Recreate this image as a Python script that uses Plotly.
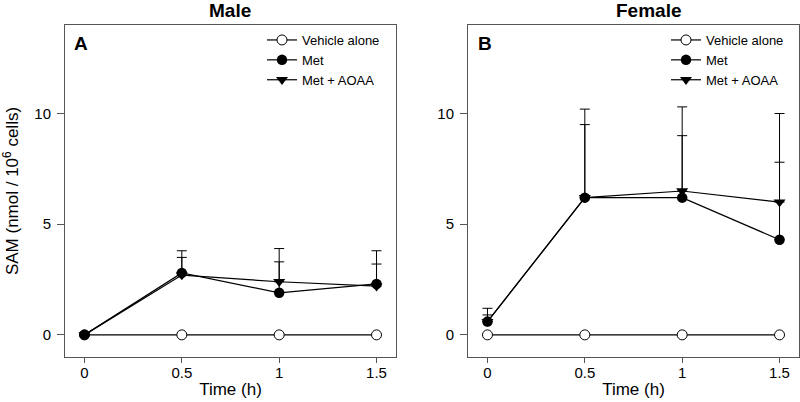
import plotly.graph_objects as go

# time points (h)
time_h = [0, 0.5, 1, 1.5]

# Male (panel A)
male_vehicle = [0, 0, 0, 0]
male_met = [0, 2.8, 1.9, 2.3]
male_met_err = [0, 1.0, 2.0, 1.5]
male_aoaa = [0, 2.7, 2.4, 2.2]
male_aoaa_err = [0, 0.8, 0.9, 1.0]

# Female (panel B)
female_vehicle = [0, 0, 0, 0]
female_met = [0.6, 6.2, 6.2, 4.3]
female_met_err = [0.6, 4.0, 4.1, 5.7]
female_aoaa = [0.6, 6.2, 6.5, 6.0]
female_aoaa_err = [0.3, 3.3, 2.5, 1.8]

x_ticks = [0, 0.5, 1, 1.5]
x_tick_text = ["0", "0.5", "1", "1.5"]
y_ticks = [0, 5, 10]

FONT = "Arial, Liberation Sans, sans-serif"
W, H = 800, 402


def px_x(p):
    return p / W


def px_y(p):
    return 1 - p / H


def add_panel(fig, xa, ya, legend, vehicle, met, met_err, aoaa, aoaa_err):
    xref = "x" if xa == "xaxis" else "x2"
    yref = "y" if ya == "yaxis" else "y2"
    fig.add_trace(go.Scatter(
        x=time_h, y=vehicle, name="Vehicle alone", mode="lines+markers",
        line=dict(color="black", width=1.2),
        marker=dict(symbol="circle", size=10, color="white",
                    line=dict(color="black", width=1)),
        xaxis=xref, yaxis=yref, legend=legend))
    fig.add_trace(go.Scatter(
        x=time_h, y=met, name="Met", mode="lines+markers",
        line=dict(color="black", width=1.2),
        marker=dict(symbol="circle", size=10.5, color="black"),
        error_y=dict(type="data", array=met_err, arrayminus=[0] * 4,
                     symmetric=False, color="black", thickness=1, width=5),
        xaxis=xref, yaxis=yref, legend=legend))
    fig.add_trace(go.Scatter(
        x=time_h, y=aoaa, name="Met + AOAA", mode="lines+markers",
        line=dict(color="black", width=1.2),
        marker=dict(symbol="triangle-down", size=10.5, color="black"),
        error_y=dict(type="data", array=aoaa_err, arrayminus=[0] * 4,
                     symmetric=False, color="black", thickness=1, width=5),
        xaxis=xref, yaxis=yref, legend=legend))


fig = go.Figure()
add_panel(fig, "xaxis", "yaxis", "legend",
          male_vehicle, male_met, male_met_err, male_aoaa, male_aoaa_err)
add_panel(fig, "xaxis2", "yaxis2", "legend2",
          female_vehicle, female_met, female_met_err, female_aoaa, female_aoaa_err)

axis_common = dict(showline=True, mirror=True, linecolor="#555555", linewidth=1,
                   ticks="outside", tickcolor="#555555", tickwidth=1,
                   showgrid=False, zeroline=False,
                   tickfont=dict(family=FONT, size=15, color="black"))
x_common = dict(range=[-0.1, 1.6], tickvals=x_ticks, ticktext=x_tick_text,
                ticklen=5, ticklabelstandoff=-3,
                title=dict(text="Time (h)", font=dict(size=17), standoff=3),
                **axis_common)
y_common = dict(range=[-1, 14], tickvals=y_ticks, ticklen=7, ticklabelstandoff=3,
                **axis_common)

y_dom = [px_y(357), px_y(25)]

fig.update_layout(
    width=W, height=H,
    margin=dict(l=0, r=0, t=0, b=0),
    plot_bgcolor="white", paper_bgcolor="white",
    font=dict(family=FONT, color="black"),
    xaxis=dict(domain=[px_x(65), px_x(396)], anchor="y", **x_common),
    yaxis=dict(domain=y_dom, anchor="x",
               title=dict(text="SAM (nmol / 10<sup>6</sup> cells)",
                          font=dict(size=17), standoff=13),
               **y_common),
    xaxis2=dict(domain=[px_x(468), px_x(799)], anchor="y2", **x_common),
    yaxis2=dict(domain=y_dom, anchor="x2", **y_common),
    legend=dict(x=px_x(262), y=px_y(25), xanchor="left", yanchor="top",
                bgcolor="rgba(0,0,0,0)", font=dict(size=13, family=FONT)),
    legend2=dict(x=px_x(666), y=px_y(25), xanchor="left", yanchor="top",
                 bgcolor="rgba(0,0,0,0)", font=dict(size=13, family=FONT)),
    annotations=[
        dict(text="<b>Male</b>", x=px_x(230), y=px_y(10), xref="paper", yref="paper",
             showarrow=False, font=dict(size=19), xanchor="center", yanchor="middle"),
        dict(text="<b>Female</b>", x=px_x(648), y=px_y(10), xref="paper", yref="paper",
             showarrow=False, font=dict(size=19), xanchor="center", yanchor="middle"),
        dict(text="<b>A</b>", x=px_x(72), y=px_y(44), xref="paper", yref="paper",
             showarrow=False, font=dict(size=19), xanchor="left", yanchor="middle"),
        dict(text="<b>B</b>", x=px_x(476), y=px_y(44), xref="paper", yref="paper",
             showarrow=False, font=dict(size=19), xanchor="left", yanchor="middle"),
    ],
)

# drop the browser's default 8px body margin so the figure sits at the page corner
fig.write_html("out.html", config={"displayModeBar": False},
               post_script="document.body.style.margin='0';")
